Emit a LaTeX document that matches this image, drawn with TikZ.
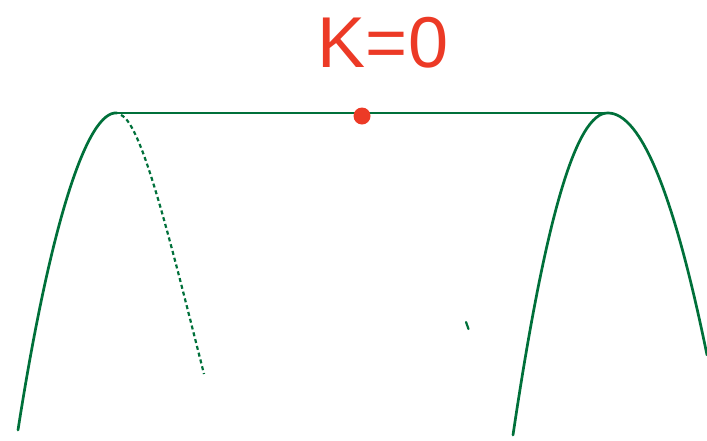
\documentclass[tikz,border=0pt]{standalone}
\usepackage{fontspec}
\setsansfont{Liberation Sans}
\definecolor{Gline}{RGB}{0,112,58}
\definecolor{Rmark}{RGB}{236,58,38}

\begin{document}
\begin{tikzpicture}[x=1pt,y=-1pt,line cap=round,line join=round,
  hill/.style={draw=Gline,line width=2.7pt},
  fallpath/.style={draw=Gline,line width=2.2pt,dash pattern=on 4pt off 3pt,line cap=butt}]
\path[use as bounding box] (0,0) rectangle (707,440);
\coordinate (Lpeak) at (117,113);
\coordinate (Rpeak) at (608,113);
% hills and the flat top
\draw[hill] (18,430) .. controls (51,219) and (88,110) .. (Lpeak);
\draw[hill] (Lpeak) -- (Rpeak);
\draw[hill] (513,435) .. controls (545,220) and (576,112) .. (Rpeak)
  .. controls (641,113) and (674,194) .. (707,355);
\draw[fallpath] (121,115) .. controls (142,124) and (170,240) .. (204,374);
\draw[hill,line width=2.2pt] (466,322) -- (468.5,329);
% ball and label
\node[circle,fill=Rmark,minimum size=17pt,inner sep=0pt] (ball) at (362,116) {};
\node[text=Rmark,font=\sffamily\fontsize{72}{72}\selectfont] (klabel) at (383,43) {K=0};
\end{tikzpicture}
\end{document}
